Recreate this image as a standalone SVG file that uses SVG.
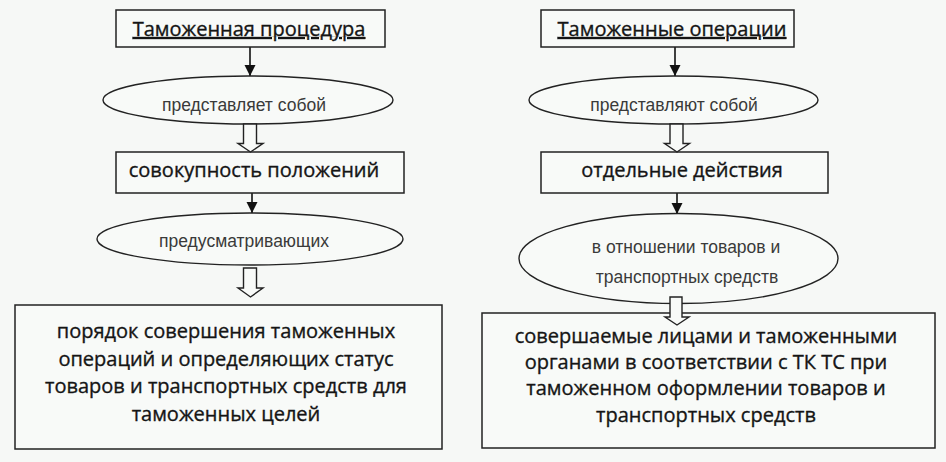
<svg xmlns="http://www.w3.org/2000/svg" width="946" height="462" viewBox="0 0 946 462">
<defs>
<marker id="ah" markerUnits="userSpaceOnUse" markerWidth="12" markerHeight="12" refX="11" refY="5.5" orient="auto">
<path d="M0,0 L11,5.5 L0,11 z" fill="#111"/>
</marker>
<style>
.box{fill:#f8faf8;stroke:#222;stroke-width:1.5}
.ell{fill:#f8faf8;stroke:#222;stroke-width:1.4}
.hol{fill:#f8faf8;stroke:#222;stroke-width:1.4;stroke-linejoin:miter}
.ln{stroke:#111;stroke-width:1.6;fill:none}
.t{font-family:"Open Sans","Liberation Sans",sans-serif;font-size:20px;fill:#151515;stroke:#151515;stroke-width:0.35;text-anchor:middle}
.e{font-family:"Liberation Sans","DejaVu Sans",sans-serif;font-size:17.5px;fill:#3a3a3a;text-anchor:middle}
</style>
</defs>
<rect width="946" height="462" fill="#f6f8f6"/>

<g id="connectors">
<line class="ln" x1="250" y1="47" x2="250" y2="76" marker-end="url(#ah)"/>
<line class="ln" x1="252" y1="193" x2="252" y2="213" marker-end="url(#ah)"/>
<line class="ln" x1="675" y1="47" x2="675" y2="76" marker-end="url(#ah)"/>
<line class="ln" x1="677" y1="193" x2="677" y2="214" marker-end="url(#ah)"/>
</g>

<g id="n_proc">
<rect class="box" x="116" y="10" width="269" height="37"/>
<text class="t" x="249" y="36" text-decoration="underline">Таможенная процедура</text>
</g>
<g id="n_pred1">
<ellipse class="ell" cx="248" cy="100" rx="145" ry="24"/>
<text class="e" x="244" y="111">представляет собой</text>
</g>
<g id="n_sov">
<rect class="box" x="116" y="152" width="288" height="41"/>
<text class="t" x="254" y="177">совокупность положений</text>
</g>
<g id="n_predus">
<ellipse class="ell" cx="250" cy="239" rx="153" ry="26"/>
<text class="e" x="244" y="247">предусматривающих</text>
</g>
<g id="n_poryadok">
<rect class="box" x="15" y="305" width="427" height="144"/>
<text class="t" x="226" y="338">порядок совершения таможенных</text>
<text class="t" x="226" y="366">операций и определяющих статус</text>
<text class="t" x="226" y="393">товаров и транспортных средств для</text>
<text class="t" x="226" y="421">таможенных целей</text>
</g>

<g id="n_oper">
<rect class="box" x="541" y="10" width="253" height="37"/>
<text class="t" x="672" y="36" text-decoration="underline">Таможенные операции</text>
</g>
<g id="n_pred2">
<ellipse class="ell" cx="673.5" cy="100" rx="144.5" ry="24"/>
<text class="e" x="674" y="111">представляют собой</text>
</g>
<g id="n_otd">
<rect class="box" x="541" y="152" width="287" height="41"/>
<text class="t" x="682" y="177">отдельные действия</text>
</g>
<g id="n_otnosh">
<ellipse class="ell" cx="678.5" cy="258.5" rx="159.5" ry="45"/>
<text class="e" x="686" y="253">в отношении товаров и</text>
<text class="e" x="687" y="283">транспортных средств</text>
</g>
<g id="n_sovers">
<rect class="box" x="482" y="313" width="453" height="135"/>
<text class="t" x="706" y="343">совершаемые лицами и таможенными</text>
<text class="t" x="706" y="369">органами в соответствии с ТК ТС при</text>
<text class="t" x="706" y="395">таможенном оформлении товаров и</text>
<text class="t" x="706" y="422">транспортных средств</text>
</g>

<g id="hollow_arrows">
<path class="hol" d="M243.5,124 V143.5 H238 L250.5,152 L263,143.5 H256.5 V124 Z"/>
<path class="hol" d="M243.5,268 V288 H238 L250.5,297 L263,288 H256.5 V268 Z"/>
<path class="hol" d="M670,124 V143.5 H664.5 L677,152 L689.5,143.5 H683 V124 Z"/>
<path class="hol" d="M670,297 V317 H665 L677,325 L689,317 H682 V297 Z"/>
</g>
</svg>
